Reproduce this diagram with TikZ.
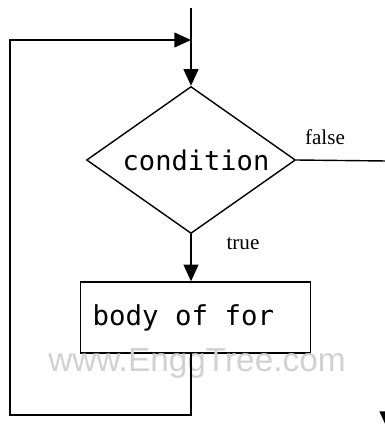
\documentclass[tikz,border=0pt]{standalone}
\usepackage{fontspec}
\setmainfont{Liberation Serif}
\newfontfamily\codefont{DejaVu Sans Mono}
\newfontfamily\markfont{Liberation Sans}
\newcommand\monospaces{\spaceskip=0.602em\relax}
\usetikzlibrary{positioning,arrows.meta,shapes.geometric}

\begin{document}
\begin{tikzpicture}[x=0.02cm, y=-0.02cm, line width=0.8pt,
    flow/.style={-{Triangle[length=9.5pt, width=8.5pt]}},
    label/.style={font=\fontsize{12}{14}\selectfont}]
        \useasboundingbox (0,0) rectangle (385,430);
        \coordinate (start) at (191,8);
        \coordinate (join) at (191,40);
        \coordinate (loop) at (10,415);
        \node[draw, diamond, aspect=1.42, minimum width=4.18cm, minimum height=2.94cm,
              inner sep=0pt, font=\codefont\fontsize{15.4}{18}\selectfont] (cond) at (191,160) {\hspace*{0.2cm}condition};
        \node[draw, minimum width=4.6cm, minimum height=1.42cm, inner xsep=0.24cm,
              text width=4.12cm, align=left,
              font=\codefont\fontsize{15.6}{20}\selectfont] (body) at (195.5,317.5) {\monospaces body of for};
        \node[label] (false) at (325,137) {false};
        \node[label] (true) at (243,244) {true};
        \node[text=black!18, font=\markfont\fontsize{19}{22}\selectfont] (mark) at (197,363) {www.EnggTree.com};
        \coordinate (exit) at (387,161);
        \coordinate (done) at (387,428);
        \draw[flow] (start) -- (cond.north);
        \draw[flow] (cond.south) -- (cond.south |- body.north);
        \draw[flow] (cond.south |- body.south) |- (loop) |- (join);
        \draw[flow] (cond.east) -- (exit) -- (done);
      \end{tikzpicture}
\end{document}
